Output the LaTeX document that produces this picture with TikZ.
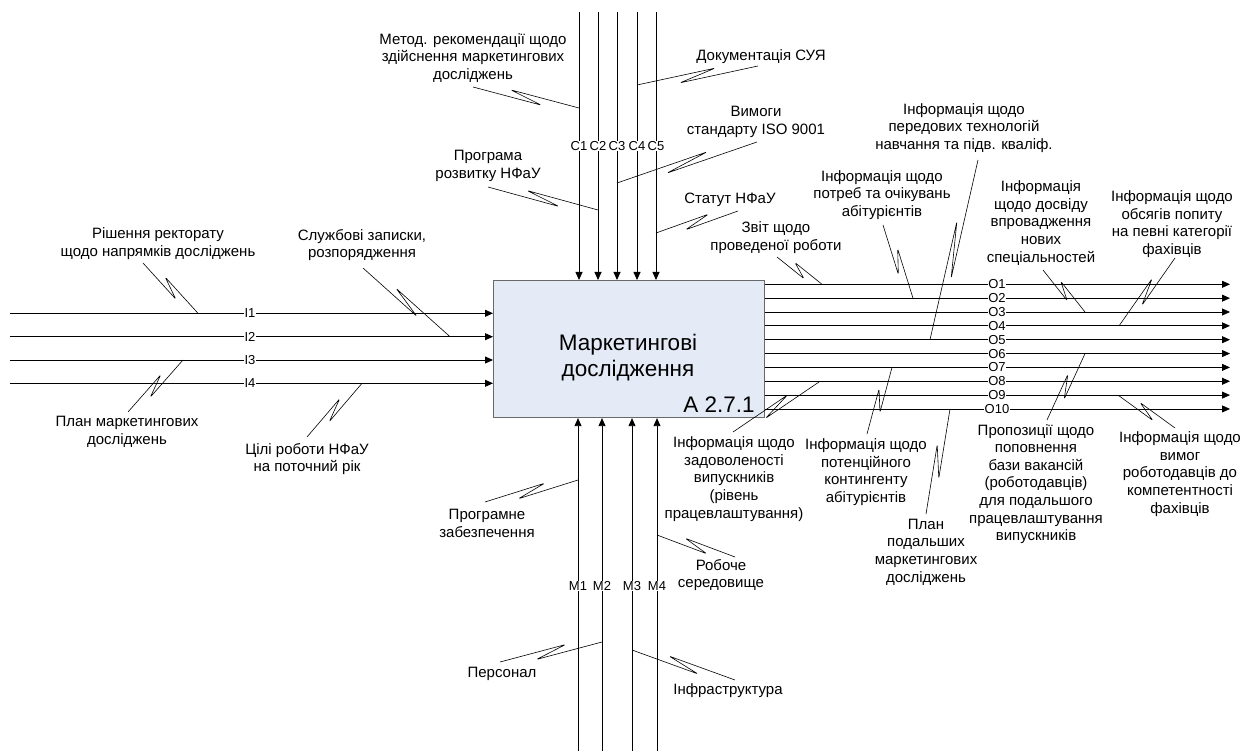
\documentclass[tikz,border=0pt]{standalone}
\usepackage{fontspec}
\setmainfont{Liberation Sans}
\usetikzlibrary{arrows.meta,calc}
\definecolor{boxfill}{RGB}{229,235,246}
\definecolor{boxline}{RGB}{105,105,105}
\newcommand{\sqg}[2]{\draw[sqline] (#1) -- ($(#1)!0.65!(#2)!4.5pt!-90:(#2)$) -- ($(#1)!0.35!(#2)!4.5pt!90:(#2)$) -- (#2);}
\newcommand{\sqgm}[2]{\draw[sqline] (#1) -- ($(#1)!0.65!(#2)!4.5pt!90:(#2)$) -- ($(#1)!0.35!(#2)!4.5pt!-90:(#2)$) -- (#2);}
\begin{document}
\begin{tikzpicture}[x=1pt,y=-1pt,
  arr/.style={draw=black, line width=0.8pt, -{Triangle[length=8pt,width=7pt]}},
  sqline/.style={draw=black, line width=0.6pt, rounded corners=1.2pt},
  lbl/.style={font=\fontsize{15}{17.6}\selectfont, align=center, inner sep=0pt},
  tag/.style={font=\fontsize{13}{14}\selectfont, fill=white, inner sep=0.7pt},
  boxst/.style={draw=boxline, fill=boxfill, line width=1.1pt, minimum width=271pt, minimum height=137pt, inner sep=0pt}]
\useasboundingbox (0,0) rectangle (1245,751);
% box
\node[boxst, anchor=north west] (A) at (493,280) {};
\node[font=\fontsize{22.5}{26}\selectfont, align=center, inner sep=0pt] (T) at (628,357.5) {Маркетингові\\дослідження};
\node[font=\fontsize{22.5}{26}\selectfont, inner sep=0pt] (N) at (719,405) {A 2.7.1};
% inputs
\foreach \k/\y in {1/313.3,2/336.7,3/360,4/383.3}{
  \coordinate (in\k) at (10,\y);
  \draw[arr] (in\k) -- (in\k -| A.west);
  \node[tag] (I\k) at (250,\y) {I\k};
}
% controls
\foreach \k/\x in {1/579,2/598,3/617,4/637,5/656}{
  \coordinate (c\k) at (\x,12);
  \draw[arr] (c\k) -- (c\k |- A.north);
  \node[tag] (C\k) at (\x,146) {C\k};
}
% mechanisms
\foreach \k/\x in {1/578,2/602,3/632,4/657}{
  \coordinate (m\k) at (\x,751);
  \draw[arr] (m\k) -- (m\k |- A.south);
  \node[tag] (M\k) at (\x,586) {M\k};
}
% outputs
\foreach \k in {1,...,10}{
  \pgfmathsetmacro{\yy}{284.3+(\k-1)*13.85}
  \coordinate (o\k) at (1230,\yy);
  \draw[arr] (o\k -| A.east) -- (o\k);
  \node[tag] (O\k) at (997,\yy) {O\k};
}
% labels
\node[lbl] (l1) at (473,58) {Метод. рекомендації щодо\\здійснення маркетингових\\досліджень};
\node[lbl] (l2) at (761,57) {Документація СУЯ};
\node[lbl] (l3) at (756,122) {Вимоги\\стандарту ISO 9001};
\node[lbl] (l4) at (488,166) {Програма\\розвитку НФаУ};
\node[lbl] (l5) at (730,200) {Статут НФаУ};
\node[lbl] (l6) at (158,243.5) {Рішення ректорату\\щодо напрямків досліджень};
\node[lbl] (l7) at (362,245) {Службові записки,\\розпорядження};
\node[lbl] (l8) at (127,432) {План маркетингових\\досліджень};
\node[lbl] (l9) at (307,459) {Цілі роботи НФаУ\\на поточний рік};
\node[lbl] (l10) at (776,237.5) {Звіт щодо\\проведеної роботи};
\node[lbl] (l11) at (882,195) {Інформація щодо\\потреб та очікувань\\абітурієнтів};
\node[lbl] (l12) at (964,128) {Інформація щодо\\передових технологій\\навчання та підв. кваліф.};
\node[lbl] (l13) at (1041,223) {Інформація\\щодо досвіду\\впровадження\\нових\\спеціальностей};
\node[lbl] (l14) at (1172,224) {Інформація щодо\\обсягів попиту\\на певні категорії\\фахівців};
\node[lbl] (l15) at (734,479) {Інформація щодо\\задоволеності\\випускників\\(рівень\\працевлаштування)};
\node[lbl] (l16) at (866,472) {Інформація щодо\\потенційного\\контингенту\\абітурієнтів};
\node[lbl] (l17) at (926,552) {План\\подальших\\маркетингових\\досліджень};
\node[lbl] (l18) at (1036,484) {Пропозиції щодо\\поповнення\\бази вакансій\\(роботодавців)\\для подальшого\\працевлаштування\\випускників};
\node[lbl] (l19) at (1180,474) {Інформація щодо\\вимог\\роботодавців до\\компетентності\\фахівців};
\node[lbl] (l20) at (487,523.5) {Програмне\\забезпечення};
\node[lbl] (l21) at (721,575) {Робоче\\середовище};
\node[lbl] (l22) at (502,674) {Персонал};
\node[lbl] (l23) at (728,691) {Інфраструктура};
% squiggle end points
\coordinate (s1a) at (473,87);   \coordinate (s1b) at (579,108);
\coordinate (s2a) at (758,66);   \coordinate (s2b) at (637,85);
\coordinate (s3a) at (757,142);  \coordinate (s3b) at (617,183);
\coordinate (s4a) at (488,187);  \coordinate (s4b) at (598,210);
\coordinate (s5a) at (738,211);  \coordinate (s5b) at (656,233);
\coordinate (s6a) at (143,263);  \coordinate (s6b) at (198,313.3);
\coordinate (s7a) at (363,268);  \coordinate (s7b) at (450,336.7);
\coordinate (s8a) at (128,412);  \coordinate (s8b) at (183,360);
\coordinate (s9a) at (307,437);  \coordinate (s9b) at (362,383.3);
\coordinate (s10a) at (777,257); \coordinate (s10b) at (822,284.3);
\coordinate (s11a) at (883,225); \coordinate (s11b) at (913,298.2);
\coordinate (s12a) at (978,160); \coordinate (s12b) at (930,339.7);
\coordinate (s13a) at (1043,270); \coordinate (s13b) at (1085,312);
\coordinate (s14a) at (1175,258); \coordinate (s14b) at (1119,325.9);
\coordinate (s15a) at (733,432); \coordinate (s15b) at (820,381.3);
\coordinate (s16a) at (867,434); \coordinate (s16b) at (892,367.4);
\coordinate (s17a) at (926,514); \coordinate (s17b) at (950,409);
\coordinate (s18a) at (1047,420); \coordinate (s18b) at (1085,353.6);
\coordinate (s19a) at (1175,428); \coordinate (s19b) at (1118,395.1);
\coordinate (s20a) at (485,502); \coordinate (s20b) at (578,480);
\coordinate (s21a) at (735,557); \coordinate (s21b) at (657,535);
\coordinate (s22a) at (500,662); \coordinate (s22b) at (602,642);
\coordinate (s23a) at (735,680); \coordinate (s23b) at (632,650);
\sqg{s1a}{s1b}
\sqgm{s2a}{s2b}
\sqgm{s3a}{s3b}
\sqg{s4a}{s4b}
\sqgm{s5a}{s5b}
\sqg{s6a}{s6b}
\sqg{s7a}{s7b}
\sqgm{s8a}{s8b}
\sqgm{s9a}{s9b}
\sqg{s10a}{s10b}
\sqg{s11a}{s11b}
\sqgm{s12a}{s12b}
\sqg{s13a}{s13b}
\sqgm{s14a}{s14b}
\sqgm{s15a}{s15b}
\sqgm{s16a}{s16b}
\sqgm{s17a}{s17b}
\sqgm{s18a}{s18b}
\sqg{s19a}{s19b}
\sqgm{s20a}{s20b}
\sqg{s21a}{s21b}
\sqgm{s22a}{s22b}
\sqg{s23a}{s23b}
\end{tikzpicture}
\end{document}
